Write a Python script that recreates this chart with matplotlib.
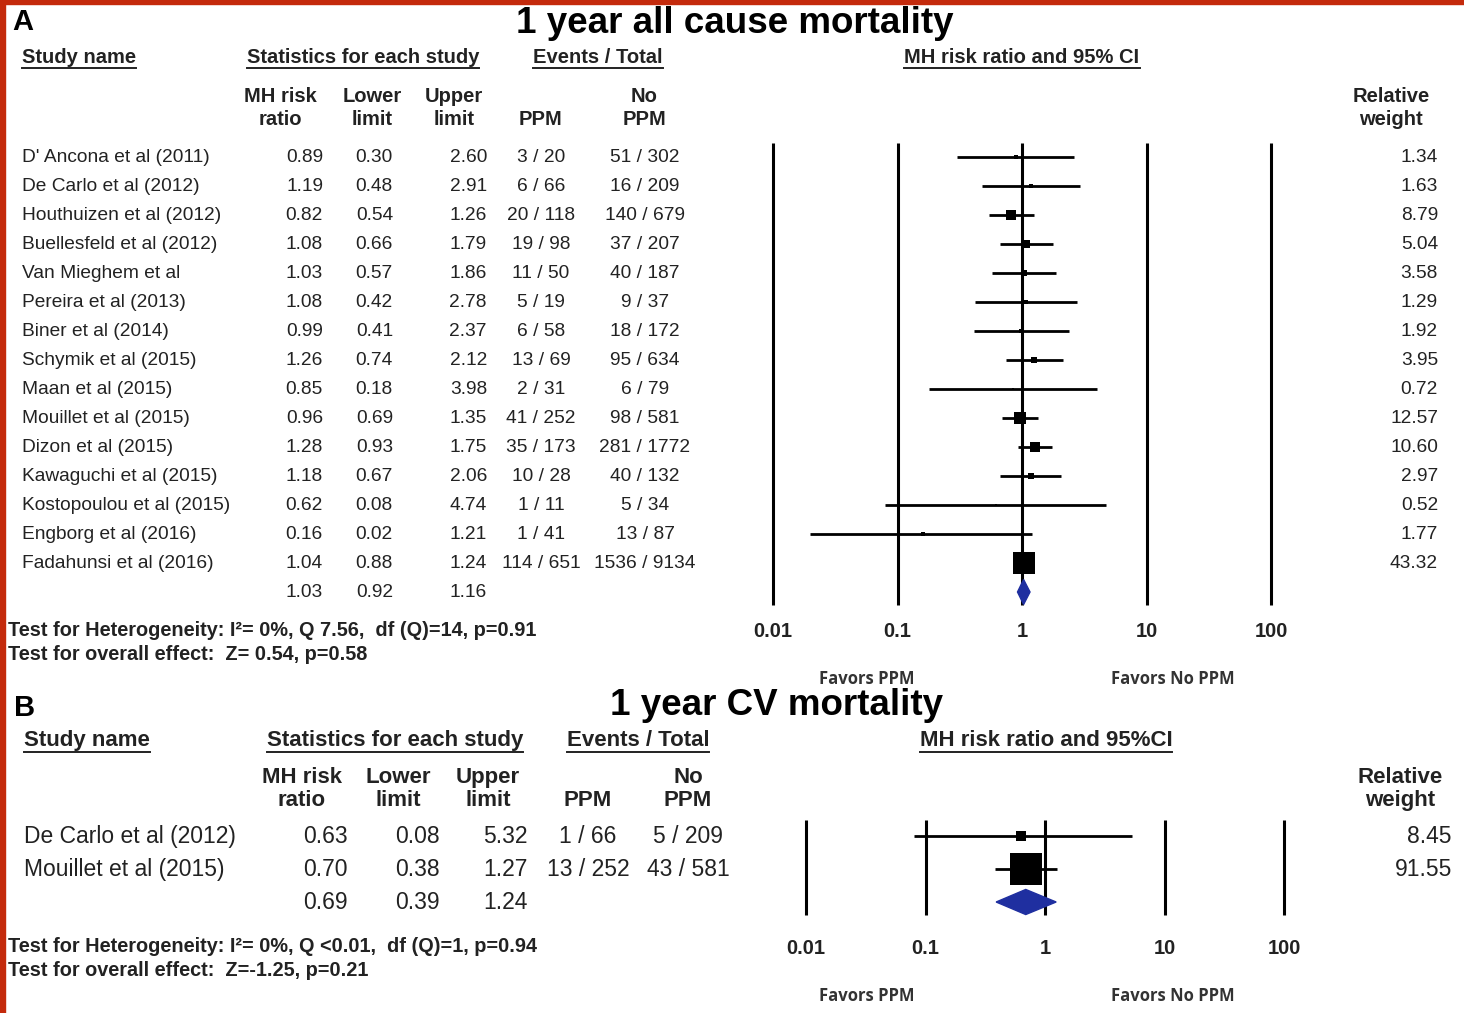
import matplotlib
matplotlib.use("Agg")
import matplotlib.pyplot as plt
from matplotlib.patches import Polygon, Rectangle
import numpy as np

plt.rcParams['font.family'] = ['Liberation Sans', 'DejaVu Sans']

# ---------------- data ----------------
studies_A = ["D' Ancona et al (2011)", "De Carlo et al (2012)", "Houthuizen et al (2012)",
             "Buellesfeld et al (2012)", "Van Mieghem et al", "Pereira et al (2013)",
             "Biner et al (2014)", "Schymik et al (2015)", "Maan et al (2015)",
             "Mouillet et al (2015)", "Dizon et al (2015)", "Kawaguchi et al (2015)",
             "Kostopoulou et al (2015)", "Engborg et al (2016)", "Fadahunsi et al (2016)"]
rr_A = [0.89, 1.19, 0.82, 1.08, 1.03, 1.08, 0.99, 1.26, 0.85, 0.96, 1.28, 1.18, 0.62, 0.16, 1.04]
lo_A = [0.30, 0.48, 0.54, 0.66, 0.57, 0.42, 0.41, 0.74, 0.18, 0.69, 0.93, 0.67, 0.08, 0.02, 0.88]
hi_A = [2.60, 2.91, 1.26, 1.79, 1.86, 2.78, 2.37, 2.12, 3.98, 1.35, 1.75, 2.06, 4.74, 1.21, 1.24]
ppm_A = ["3 / 20", "6 / 66", "20 / 118", "19 / 98", "11 / 50", "5 / 19", "6 / 58", "13 / 69",
         "2 / 31", "41 / 252", "35 / 173", "10 / 28", "1 / 11", "1 / 41", "114 / 651"]
noppm_A = ["51 / 302", "16 / 209", "140 / 679", "37 / 207", "40 / 187", "9 / 37", "18 / 172",
           "95 / 634", "6 / 79", "98 / 581", "281 / 1772", "40 / 132", "5 / 34", "13 / 87",
           "1536 / 9134"]
w_A = [1.34, 1.63, 8.79, 5.04, 3.58, 1.29, 1.92, 3.95, 0.72, 12.57, 10.60, 2.97, 0.52, 1.77, 43.32]
sum_A = (1.03, 0.92, 1.16)

studies_B = ["De Carlo et al (2012)", "Mouillet et al (2015)"]
rr_B = [0.63, 0.70]
lo_B = [0.08, 0.38]
hi_B = [5.32, 1.27]
ppm_B = ["1 / 66", "13 / 252"]
noppm_B = ["5 / 209", "43 / 581"]
w_B = [8.45, 91.55]
sum_B = (0.69, 0.39, 1.24)

ticks = [0.01, 0.1, 1, 10, 100]
tick_labels = ["0.01", "0.1", "1", "10", "100"]

title_A = "1 year all cause mortality"
title_B = "1 year CV mortality"
test_A = ["Test for Heterogeneity: I\u00b2= 0%, Q 7.56,  df (Q)=14, p=0.91",
          "Test for overall effect:  Z= 0.54, p=0.58"]
test_B = ["Test for Heterogeneity: I\u00b2= 0%, Q <0.01,  df (Q)=1, p=0.94",
          "Test for overall effect:  Z=-1.25, p=0.21"]

# ---------------- figure ----------------
W, H = 1464, 1013
fig = plt.figure(figsize=(W / 100, H / 100), dpi=100)
ov = fig.add_axes([0, 0, 1, 1])
ov.set_xlim(0, W)
ov.set_ylim(H, 0)
ov.axis('off')

RED = '#c42a0c'
ov.add_patch(Rectangle((0, 0), 5, H, color=RED, zorder=10))
ov.add_patch(Rectangle((0, 0), W, 4, color=RED, zorder=10))

underline_items = []
TXT = '#222222'


def txt(x, y, s, size=12, weight='normal', ha='left', va='center', underline=False,
        color=TXT, **kw):
    t = ov.text(x, y, s, fontsize=size, fontweight=weight, ha=ha, va=va, color=color, **kw)
    if underline:
        underline_items.append(t)
    return t


def forest(ax_px, rows_px, rr, lo, hi, w, summ, diam_half, sq_k, top_px, bot_px):
    left, width = ax_px
    n = len(rr)
    sp = rows_px[1] - rows_px[0]
    y0 = rows_px[0]
    ytop = (top_px - y0) / sp
    ybot = (bot_px - y0) / sp
    ax = fig.add_axes([left / W, 1 - bot_px / H, width / W, (bot_px - top_px) / H])
    ax.set_xscale('log')
    ax.set_xlim(0.01, 100)
    ax.set_ylim(ybot, ytop)
    for s in ax.spines.values():
        s.set_visible(False)
    ax.set_yticks([])
    ax.patch.set_alpha(0)
    for t in ticks:
        ax.plot([t, t], [ytop, ybot], color='black', lw=2.2, clip_on=False, solid_capstyle='butt')
    for i in range(n):
        ax.plot([lo[i], hi[i]], [i, i], color='black', lw=2.0, clip_on=False, solid_capstyle='butt')
        ms = sq_k * np.sqrt(w[i]) * 0.72
        ax.plot(rr[i], i, marker='s', color='black', ms=ms, mew=0, clip_on=False)
    c, l, h = summ
    ax.add_patch(Polygon([[l, n], [c, n - diam_half], [h, n], [c, n + diam_half]],
                         closed=True, color='#1f2fa0', zorder=5, clip_on=False))
    ax.set_xticks(ticks)
    ax.set_xticklabels(tick_labels, fontsize=14.5, fontweight='bold', color=TXT)
    ax.minorticks_off()
    ax.tick_params(axis='x', length=0)
    return ax


FAV = dict(fontsize=12, fontweight='bold', ha='center', va='center', color='#333333',
           family=['Open Sans', 'DejaVu Sans'])

# ---------------- Panel A ----------------
txt(12, 22, "A", size=21, weight='bold', color='black')
txt(735, 23, title_A, size=26.5, weight='bold', ha='center', color='black')

hy = 57
hs = 14.5
txt(22, hy, "Study name", size=hs, weight='bold', underline=True)
txt(363, hy, "Statistics for each study", size=hs, weight='bold', ha='center', underline=True)
txt(598, hy, "Events / Total", size=hs, weight='bold', ha='center', underline=True)
txt(1022, hy, "MH risk ratio and 95% CI", size=hs, weight='bold', ha='center', underline=True)

for x, l1, l2 in [(280, "MH risk", "ratio"), (372, "Lower", "limit"), (454, "Upper", "limit"),
                  (644, "No", "PPM"), (1391, "Relative", "weight")]:
    txt(x, 96, l1, size=hs, weight='bold', ha='center')
    txt(x, 119, l2, size=hs, weight='bold', ha='center')
txt(541, 119, "PPM", size=hs, weight='bold', ha='center')

rowsA = [157 + 29 * i for i in range(len(studies_A) + 1)]
fsA = 13.8
for i, name in enumerate(studies_A):
    y = rowsA[i]
    txt(22, y, name, size=fsA)
    txt(323, y, f"{rr_A[i]:.2f}", size=fsA, ha='right')
    txt(393, y, f"{lo_A[i]:.2f}", size=fsA, ha='right')
    txt(487, y, f"{hi_A[i]:.2f}", size=fsA, ha='right')
    txt(541, y, ppm_A[i], size=fsA, ha='center')
    txt(645, y, noppm_A[i], size=fsA, ha='center')
    txt(1438, y, f"{w_A[i]:.2f}", size=fsA, ha='right')
ys = rowsA[-1]
txt(323, ys, f"{sum_A[0]:.2f}", size=fsA, ha='right')
txt(393, ys, f"{sum_A[1]:.2f}", size=fsA, ha='right')
txt(487, ys, f"{sum_A[2]:.2f}", size=fsA, ha='right')

axA = forest((773, 498), rowsA, rr_A, lo_A, hi_A, w_A, sum_A, 0.43, 3.3, 143, 605)
axA.tick_params(axis='x', pad=12)

txt(8, 630, test_A[0], size=14.3, weight='bold')
txt(8, 654, test_A[1], size=14.3, weight='bold')
ov.text(867, 679, "Favors PPM", **FAV)
ov.text(1173, 679, "Favors No PPM", **FAV)

# ---------------- Panel B ----------------
txt(14, 708, "B", size=21, weight='bold', color='black')
txt(777, 705, title_B, size=26.5, weight='bold', ha='center', color='black')

hy = 740
hb = 16
txt(24, hy, "Study name", size=hb, weight='bold', underline=True)
txt(395, hy, "Statistics for each study", size=hb, weight='bold', ha='center', underline=True)
txt(638, hy, "Events / Total", size=hb, weight='bold', ha='center', underline=True)
txt(1046, hy, "MH risk ratio and 95%CI", size=hb, weight='bold', ha='center', underline=True)

for x, l1, l2 in [(302, "MH risk", "ratio"), (398, "Lower", "limit"), (488, "Upper", "limit"),
                  (688, "No", "PPM"), (1400, "Relative", "weight")]:
    txt(x, 777, l1, size=hb, weight='bold', ha='center')
    txt(x, 800, l2, size=hb, weight='bold', ha='center')
txt(588, 800, "PPM", size=hb, weight='bold', ha='center')

rowsB = [836 + 33 * i for i in range(len(studies_B) + 1)]
fsB = 16.5
for i, name in enumerate(studies_B):
    y = rowsB[i]
    txt(24, y, name, size=fsB)
    txt(348, y, f"{rr_B[i]:.2f}", size=fsB, ha='right')
    txt(440, y, f"{lo_B[i]:.2f}", size=fsB, ha='right')
    txt(528, y, f"{hi_B[i]:.2f}", size=fsB, ha='right')
    txt(588, y, ppm_B[i], size=fsB, ha='center')
    txt(688, y, noppm_B[i], size=fsB, ha='center')
    txt(1452, y, f"{w_B[i]:.2f}", size=fsB, ha='right')
ys = rowsB[-1]
txt(348, ys, f"{sum_B[0]:.2f}", size=fsB, ha='right')
txt(440, ys, f"{sum_B[1]:.2f}", size=fsB, ha='right')
txt(528, ys, f"{sum_B[2]:.2f}", size=fsB, ha='right')

axB = forest((806, 478), rowsB, rr_B, lo_B, hi_B, w_B, sum_B, 0.38, 3.3, 820, 915)
axB.tick_params(axis='x', pad=17)

txt(8, 946, test_B[0], size=14.3, weight='bold')
txt(8, 970, test_B[1], size=14.3, weight='bold')
ov.text(867, 996, "Favors PPM", **FAV)
ov.text(1173, 996, "Favors No PPM", **FAV)

# underlines for headers
fig.canvas.draw()
r = fig.canvas.get_renderer()
inv = ov.transData.inverted()
for t in underline_items:
    bb = t.get_window_extent(renderer=r)
    (x0, y0), (x1, y1) = inv.transform([[bb.x0, bb.y0], [bb.x1, bb.y1]])
    ov.plot([x0, x1], [y0 + 1.0, y0 + 1.0], color='#222222', lw=1.4)

fig.savefig("out.png", dpi=100)
